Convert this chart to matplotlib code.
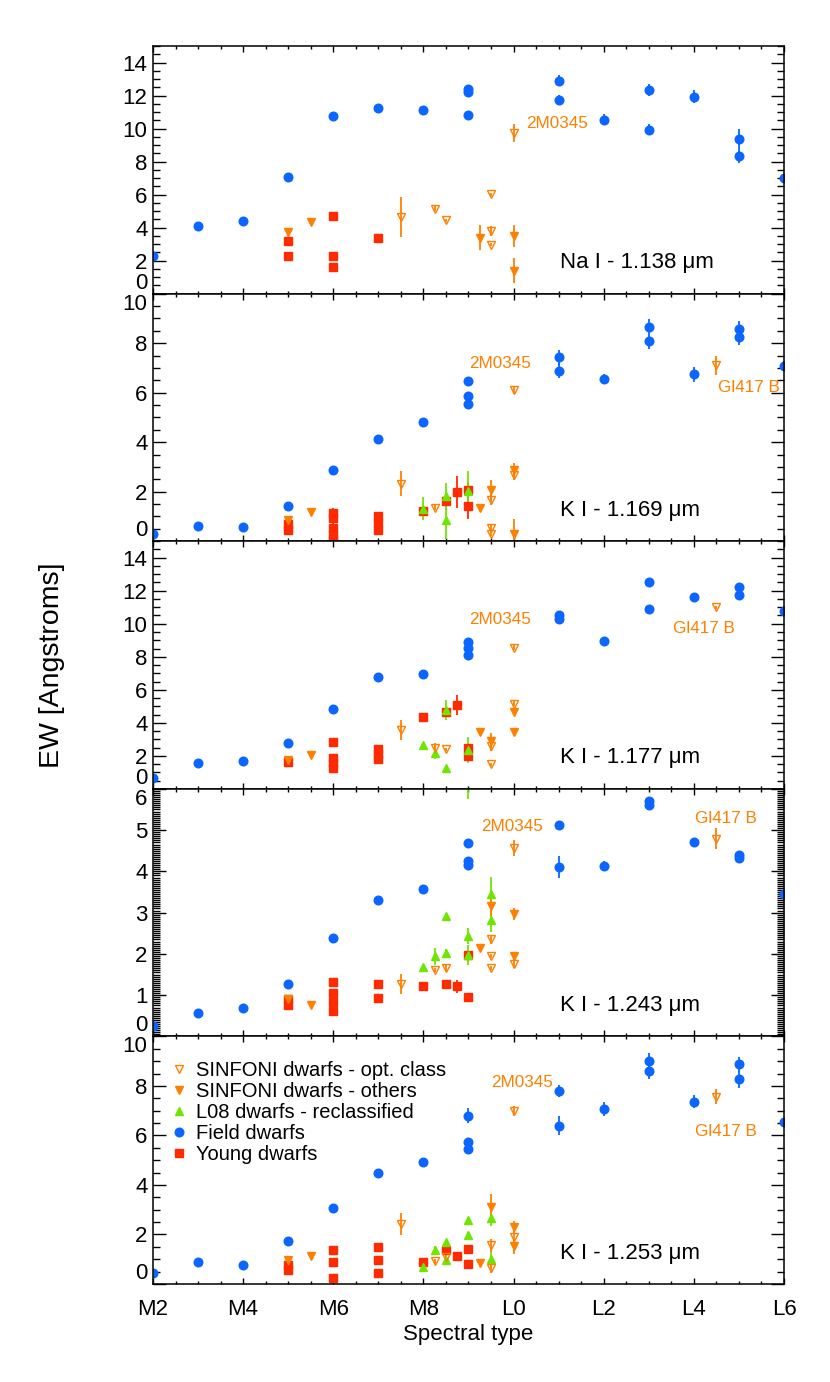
import matplotlib
matplotlib.use("Agg")
import matplotlib.pyplot as plt
from matplotlib.lines import Line2D
from matplotlib.ticker import MultipleLocator

plt.rcParams["font.family"] = ["Liberation Sans", "DejaVu Sans"]

# spectral type as a number: M2 = 2 ... M9 = 9, L0 = 10 ... L6 = 16
TICK_POS = [2, 4, 6, 8, 10, 12, 14, 16]
TICK_LAB = ["M2", "M4", "M6", "M8", "L0", "L2", "L4", "L6"]

LINES = ["Na I - 1.138 \u03bcm", "K I - 1.169 \u03bcm", "K I - 1.177 \u03bcm",
         "K I - 1.243 \u03bcm", "K I - 1.253 \u03bcm"]
YMAX = [15, 10, 15, 6, 10]

# field dwarfs (same spectral types in every panel)
FIELD_X = [2, 3, 4, 5, 6, 7, 8, 9, 9, 9, 11, 11, 12, 13, 13, 14, 15, 15, 16]
FIELD_Y = [
    [2.3, 4.07, 4.41, 7.06, 10.75, 11.23, 11.15, 12.4, 12.2, 10.81, 12.9, 11.76, 10.54, 12.33, 9.94, 11.92, 9.37, 8.34, 7.0],
    [0.3, 0.63, 0.56, 1.42, 2.89, 4.14, 4.83, 6.48, 5.86, 5.55, 7.43, 6.88, 6.57, 8.67, 8.08, 6.75, 8.58, 8.23, 7.06],
    [0.67, 1.58, 1.68, 2.79, 4.86, 6.78, 6.96, 8.88, 8.52, 8.12, 10.5, 10.28, 8.97, 12.51, 10.91, 11.6, 12.22, 11.76, 10.79],
    [0.26, 0.56, 0.69, 1.26, 2.39, 3.31, 3.58, 4.69, 4.25, 4.15, 5.12, 4.1, 4.14, 5.6, 5.7, 4.71, 4.4, 4.33, 3.44],
    [0.45, 0.87, 0.76, 1.72, 3.07, 4.48, 4.92, 6.79, 5.73, 5.45, 7.8, 6.4, 7.07, 9.0, 8.61, 7.37, 8.88, 8.27, 6.53],
]
FIELD_E = [
    [0, 0, 0, 0, 0, 0, 0, 0.15, 0.15, 0.1, 0.35, 0.25, 0.35, 0.35, 0.35, 0.4, 0.6, 0.45, 0.2],
    [0, 0, 0, 0, 0, 0, 0, 0.15, 0.15, 0.1, 0.3, 0.3, 0.2, 0.3, 0.3, 0.3, 0.3, 0.3, 0.2],
    [0, 0, 0, 0, 0, 0, 0, 0.1, 0.1, 0.1, 0.1, 0.1, 0.1, 0.1, 0.1, 0.1, 0.1, 0.1, 0.1],
    [0, 0, 0, 0, 0, 0, 0, 0.08, 0.05, 0.05, 0.08, 0.27, 0.1, 0.05, 0.05, 0.1, 0.08, 0.05, 0],
    [0, 0, 0, 0, 0, 0, 0, 0.3, 0.1, 0.1, 0.25, 0.4, 0.3, 0.35, 0.35, 0.25, 0.3, 0.35, 0],
]

# young dwarfs
YOUNG_X = [
    [5, 5, 6, 6, 6, 7],
    [5, 5, 6, 6, 6, 6, 6, 7, 7, 7, 8, 8.5, 8.75, 9, 9],
    [5, 6, 6, 6, 6, 7, 7, 7, 8, 8.5, 8.75, 9, 9],
    [5, 5, 6, 6, 6, 6, 7, 7, 8, 8.5, 8.75, 9, 9],
    [5, 5, 6, 6, 6, 7, 7, 7, 8, 8.5, 8.75, 9, 9],
]
YOUNG_Y = [
    [3.18, 2.29, 4.68, 2.27, 1.64, 3.36],
    [0.7, 0.45, 1.15, 0.95, 0.55, 0.25, 0.05, 1.0, 0.75, 0.45, 1.22, 1.62, 2.0, 2.06, 1.41],
    [1.64, 2.85, 1.85, 1.55, 1.25, 2.4, 2.1, 1.8, 4.35, 4.67, 5.08, 2.45, 2.0],
    [0.9, 0.75, 1.33, 1.05, 0.83, 0.61, 1.27, 0.93, 1.21, 1.26, 1.21, 1.98, 0.96],
    [0.75, 0.55, 1.36, 0.87, 0.23, 1.49, 0.99, 0.45, 0.87, 1.36, 1.15, 1.43, 0.79],
]
YOUNG_E = [
    [0, 0, 0, 0, 0, 0],
    [0, 0, 0.2, 0, 0.2, 0, 0, 0.2, 0, 0, 0.15, 0.2, 0.65, 0.3, 0.5],
    [0, 0, 0, 0, 0, 0, 0, 0, 0.2, 0.2, 0.6, 0, 0],
    [0, 0, 0, 0, 0, 0, 0, 0, 0, 0.05, 0.15, 0, 0.1],
    [0, 0, 0, 0, 0, 0, 0, 0, 0, 0, 0, 0, 0],
]

# L08 dwarfs - reclassified
L08_X = [
    [],
    [8, 8.5, 8.5, 9],
    [8, 8.25, 8.5, 8.5, 9],
    [8, 8.25, 8.5, 8.5, 9, 9, 9, 9.5, 9.5],
    [8, 8.25, 8.5, 8.5, 9, 9, 9.5, 9.5],
]
L08_Y = [
    [],
    [1.32, 1.81, 0.87, 2.03],
    [2.65, 2.2, 4.78, 1.27, 2.35],
    [1.68, 1.94, 2.93, 2.02, 2.43, 1.97, 6.3, 3.46, 2.82],
    [0.69, 1.39, 1.69, 0.96, 2.59, 1.96, 2.65, 1.03],
]
L08_E = [
    [],
    [0.47, 0.55, 0.8, 0.8],
    [0, 0.4, 0.6, 0, 0.8],
    [0, 0.2, 0.05, 0.1, 0.2, 0.25, 0.55, 0.4, 0.3],
    [0, 0.15, 0.1, 0.1, 0.1, 0.15, 0.3, 0.35],
]

# SINFONI dwarfs - others
OTH_X = [
    [5, 5.5, 9.25, 10, 10],
    [5, 5.5, 9.25, 9.5, 10, 10],
    [5, 5.5, 9.25, 9.5, 10, 10],
    [5, 5.5, 9.25, 9.5, 10, 10],
    [5, 5.5, 9.25, 9.5, 10, 10],
]
OTH_Y = [
    [3.72, 4.33, 3.38, 3.5, 1.4],
    [0.87, 1.18, 1.36, 2.06, 2.86, 0.31],
    [1.74, 2.04, 3.46, 2.9, 4.67, 3.46],
    [0.91, 0.75, 2.14, 3.17, 2.97, 1.94],
    [0.96, 1.12, 0.83, 3.13, 2.29, 1.53],
]
OTH_E = [
    [0.2, 0, 0.75, 0.65, 0.75],
    [0, 0, 0.1, 0.4, 0.3, 0.6],
    [0, 0, 0, 0.5, 0.2, 0],
    [0, 0, 0.05, 0.25, 0.15, 0.1],
    [0, 0, 0, 0.5, 0.25, 0.3],
]

# SINFONI dwarfs - optical classification
OPT_X = [
    [7.5, 8.25, 8.5, 9.5, 9.5, 9.5, 10],
    [7.5, 8.25, 9.5, 9.5, 9.5, 10, 10, 14.5],
    [7.5, 8.25, 8.5, 9.5, 9.5, 10, 10, 14.5],
    [7.5, 8.25, 8.5, 9.5, 9.5, 9.5, 10, 10, 14.5],
    [7.5, 8.25, 8.5, 9.5, 9.5, 10, 10, 14.5],
]
OPT_Y = [
    [4.63, 5.14, 4.43, 6.01, 3.78, 2.97, 9.73],
    [2.33, 1.36, 1.68, 0.55, 0.3, 6.09, 2.66, 7.1],
    [3.56, 2.45, 2.39, 2.6, 1.48, 8.56, 5.14, 10.99],
    [1.27, 1.62, 1.66, 2.35, 1.94, 1.65, 4.57, 1.76, 4.79],
    [2.43, 0.92, 1.09, 1.56, 0.63, 6.99, 1.89, 7.56],
]
OPT_E = [
    [1.2, 0.15, 0.1, 0.1, 0.3, 0.1, 0.55],
    [0.5, 0.1, 0.2, 0.1, 0.1, 0.15, 0.2, 0.4],
    [0.6, 0.35, 0.1, 0.3, 0.1, 0.15, 0.15, 0.1],
    [0.25, 0.05, 0.08, 0.1, 0.05, 0.05, 0.2, 0.1, 0.25],
    [0.45, 0.1, 0.2, 0.25, 0.2, 0.2, 0.2, 0.3],
]

# name labels (x, y) in data units, None if absent
LBL_2M0345 = [(10.28, 10.3), (9.02, 7.19), (9.02, 10.24), (9.27, 5.08), (9.51, 8.13)]
LBL_GL417B = [None, (14.53, 6.22), (13.53, 9.73), (14.03, 5.28), (14.03, 6.16)]

BLUE = "#0a66ff"
RED = "#ff2a00"
ORANGE = "#ff8000"
GREEN = "#6ee600"

fig, axes = plt.subplots(5, 1, sharex=True, figsize=(8.3, 13.82), dpi=100)
fig.subplots_adjust(left=0.1843, right=0.9446, bottom=0.0709, top=0.9667, hspace=0)

eb = dict(ls="none", capsize=0, elinewidth=1.3)
for i, ax in enumerate(axes):
    ax.errorbar(YOUNG_X[i], YOUNG_Y[i], yerr=YOUNG_E[i], fmt="s", color=RED,
                ms=5.6, mec=RED, **eb)
    ax.errorbar(FIELD_X, FIELD_Y[i], yerr=FIELD_E[i], fmt="o", color=BLUE,
                ms=6.2, mec=BLUE, **eb)
    if L08_X[i]:
        ax.errorbar(L08_X[i], L08_Y[i], yerr=L08_E[i], fmt="^", color=GREEN,
                    ms=6.4, mec=GREEN, **eb)
    ax.errorbar(OTH_X[i], OTH_Y[i], yerr=OTH_E[i], fmt="v", color=ORANGE,
                ms=6.4, mec=ORANGE, **eb)
    ax.errorbar(OPT_X[i], OPT_Y[i], yerr=OPT_E[i], fmt="v", color=ORANGE,
                ms=6.4, mfc="none", mec=ORANGE, mew=1.0, **eb)

    ax.text(*LBL_2M0345[i], "2M0345", color=ORANGE, fontsize=12.3, va="center")
    if LBL_GL417B[i] is not None:
        ax.text(*LBL_GL417B[i], "Gl417 B", color=ORANGE, fontsize=12.3, va="center")
    ax.text(0.645, 0.125, LINES[i], transform=ax.transAxes, fontsize=16, va="center")

    ax.set_xlim(2, 16)
    ax.set_ylim(0, YMAX[i])
    if YMAX[i] == 6:
        ax.yaxis.set_major_locator(MultipleLocator(1))
        ax.yaxis.set_minor_locator(MultipleLocator(0.05))
    else:
        ax.yaxis.set_major_locator(MultipleLocator(2))
        ax.yaxis.set_minor_locator(MultipleLocator(0.5))
    ax.xaxis.set_minor_locator(MultipleLocator(0.5))
    ax.tick_params(which="both", direction="in", top=True, right=True, width=1.0)
    ax.tick_params(axis="y", which="major", length=9.5, labelsize=16, pad=4)
    ax.tick_params(axis="y", which="minor", length=5)
    ax.tick_params(axis="x", which="major", length=4.5, labelsize=16, pad=11)
    ax.tick_params(axis="x", which="minor", length=2.5)
    for s in ax.spines.values():
        s.set_linewidth(1.1)

axes[-1].set_xticks(TICK_POS)
axes[-1].set_xticklabels(TICK_LAB)
axes[-1].set_xlabel("Spectral type", fontsize=16, labelpad=3)
fig.text(0.0623, 0.5188, "EW [Angstroms]", rotation=90, fontsize=20.5,
         ha="center", va="center")

handles = [
    Line2D([], [], ls="none", marker="v", ms=6.4, mfc="none", mec=ORANGE),
    Line2D([], [], ls="none", marker="v", ms=6.4, color=ORANGE),
    Line2D([], [], ls="none", marker="^", ms=6.4, color=GREEN),
    Line2D([], [], ls="none", marker="o", ms=6.2, color=BLUE),
    Line2D([], [], ls="none", marker="s", ms=5.6, color=RED),
]
labels = ["SINFONI dwarfs - opt. class", "SINFONI dwarfs - others",
          "L08 dwarfs - reclassified", "Field dwarfs", "Young dwarfs"]
axes[-1].legend(handles, labels, loc="upper left", bbox_to_anchor=(0.025, 0.9),
                frameon=False, fontsize=14.5, handlelength=1.0, handletextpad=0.35,
                labelspacing=0.1, borderpad=0, borderaxespad=0)

# keep the 0 and top labels of neighbouring panels from sitting on each other
fig.canvas.draw()
for i, ax in enumerate(axes):
    for tick in ax.yaxis.get_major_ticks():
        if abs(tick.get_loc()) < 1e-9:
            tick.label1.set_va("bottom")
        elif abs(tick.get_loc() - YMAX[i]) < 1e-9:
            tick.label1.set_va("top")

fig.savefig("out.png", dpi=100)
